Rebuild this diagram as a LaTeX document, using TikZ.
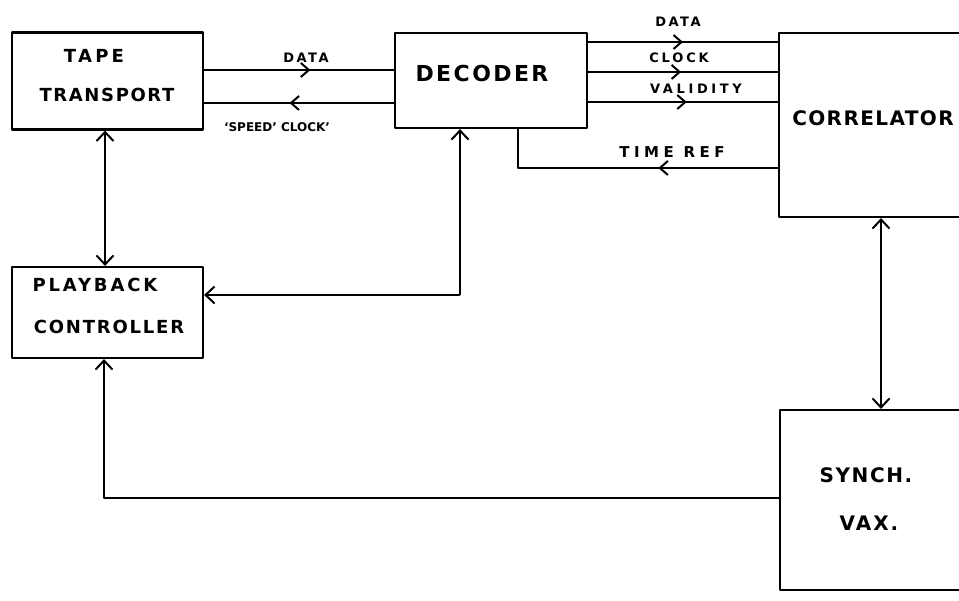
\documentclass[tikz,border=0pt]{standalone}
\usepackage{fontspec}
\setmainfont{DejaVu Sans}
\newfontfamily\hand{DejaVu Sans}
\usetikzlibrary{arrows.meta,decorations.markings}
\newcommand{\hf}[2]{\hand\bfseries\fontsize{#1}{#1}\selectfont\addfontfeature{LetterSpace=#2}}
\begin{document}
\begin{tikzpicture}[x=1pt,y=-1pt,line width=2pt,line join=round,
  box/.style={draw,line width=2.2pt,inner sep=0pt},
  lbl/.style={font=\hf{13}{22},inner sep=0pt},
  txt/.style={font=\hf{18}{11},inner sep=0pt},
  tip/.style={-{Straight Barb[length=9pt,width=17pt,line width=2pt]}},
  bitip/.style={{Straight Barb[length=9pt,width=17pt,line width=2pt]}-{Straight Barb[length=9pt,width=17pt,line width=2pt]}},
  midarr/.style={postaction={decorate},decoration={markings,
     mark=at position #1 with {\arrow{Straight Barb[length=8pt,width=14pt,line width=2pt]}}}}]
\useasboundingbox (0,0) rectangle (959,601);
\clip (0,0) rectangle (959,601);
\fill[white] (0,0) rectangle (959,601);

% boxes
\node[box,minimum width=191pt,minimum height=97pt] (tape) at (107.5,81) {};
\node[box,minimum width=192pt,minimum height=95pt] (dec) at (491,80.5) {};
\node[box,minimum width=322pt,minimum height=184pt] (corr) at (940,125) {};
\node[box,minimum width=191pt,minimum height=91pt] (pc) at (107.5,312.5) {};
\node[box,minimum width=320pt,minimum height=180pt] (vax) at (940,500) {};

% box texts
\node[txt,font=\hf{18}{18}] (tapeA) at (94,56) {TAPE};
\node[txt,font=\hf{18}{9}] (tapeB) at (107,95) {TRANSPORT};
\node[txt,font=\hf{22}{11}] (decT) at (482,73) {DECODER};
\node[txt,font=\hf{20}{7}] (corrT) at (873,118) {CORRELATOR};
\node[txt,font=\hf{18}{16}] (pcA) at (95,285) {PLAYBACK};
\node[txt,font=\hf{18}{10}] (pcB) at (109,327) {CONTROLLER};
\node[txt,font=\hf{20}{8}] (vaxA) at (866,475) {SYNCH.};
\node[txt,font=\hf{20}{10}] (vaxB) at (869,523) {VAX.};

% junction coordinates
\coordinate (yD1) at (0,70);
\coordinate (yS) at (0,103);
\coordinate (y1) at (0,42);
\coordinate (y2) at (0,72);
\coordinate (y3) at (0,102);
\coordinate (tr) at (518,168);
\coordinate (j1) at (460,295);
\coordinate (tp) at (105,200);
\coordinate (cv) at (881,300);
\coordinate (b1) at (104,498);

% tape <-> decoder
\draw[midarr=0.56] (tape.east |- yD1) -- (dec.west |- yD1);
\draw[midarr=0.55] (dec.west |- yS) -- (tape.east |- yS);
\node[lbl,font=\hf{13}{19}] (lData1) at (306,58) {DATA};
\node[lbl,font=\hf{12}{0}] (lSpeed) at (277,127) {‘SPEED’ CLOCK’};

% decoder -> correlator
\draw[midarr=0.5] (dec.east |- y1) -- (corr.west |- y1);
\draw[midarr=0.49] (dec.east |- y2) -- (corr.west |- y2);
\draw[midarr=0.52] (dec.east |- y3) -- (corr.west |- y3);
\node[lbl,font=\hf{13}{19}] (lData2) at (678,22) {DATA};
\node[lbl] (lClock) at (679,58) {CLOCK};
\node[lbl,font=\hf{13}{28}] (lVal) at (696,89) {VALIDITY};

% time ref
\draw[midarr=0.40] (corr.west |- tr) -- (tr) -- (dec.south -| tr);
\node[lbl,font=\hf{15}{30}] (lTime) at (672,152) {TIME REF};

% decoder / playback controller
\draw[tip] (j1) -- (dec.south -| j1);
\draw[tip] (j1) -- (pc.east |- j1);

% tape <-> playback controller
\draw[bitip] (tape.south -| tp) -- (pc.north -| tp);

% correlator <-> synch vax
\draw[bitip] (corr.south -| cv) -- (vax.north -| cv);

% synch vax -> playback controller
\draw[tip] (vax.west |- b1) -- (b1) -- (pc.south -| b1);
\end{tikzpicture}
\end{document}
